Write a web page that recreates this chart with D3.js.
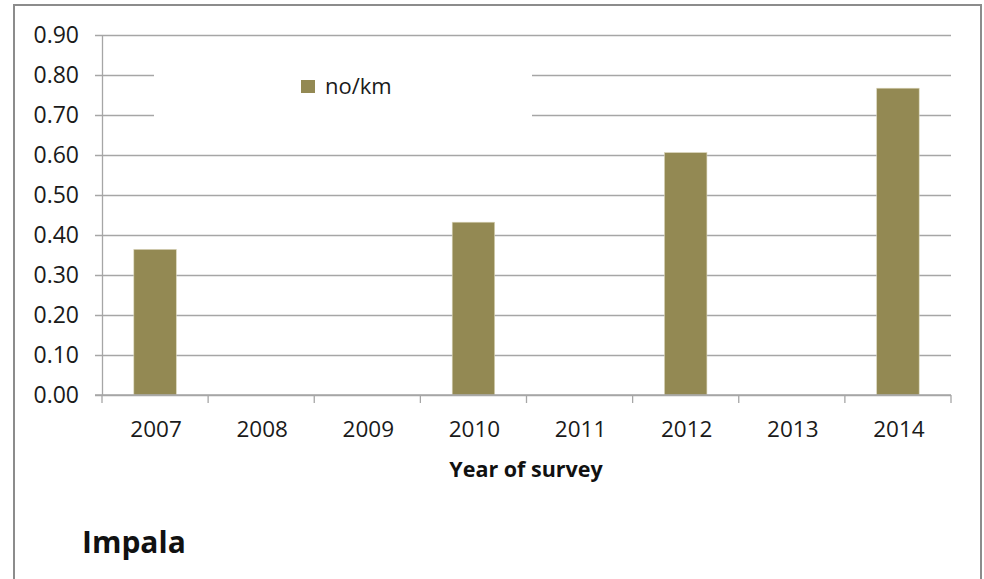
<!DOCTYPE html>
<html>
<head>
<meta charset="utf-8">
<script src="https://cdn.jsdelivr.net/npm/d3@7/dist/d3.min.js"></script>
<style>
  html, body { margin: 0; padding: 0; background: #fff; }
  svg { display: block; font-family: "Open Sans", sans-serif; }
</style>
</head>
<body>
<svg id="chart" width="984" height="579"></svg>
<script>
const years = ["2007", "2008", "2009", "2010", "2011", "2012", "2013", "2014"];
const values = [0.364, 0, 0, 0.432, 0, 0.606, 0, 0.767];
const yTicks = [0, 0.1, 0.2, 0.3, 0.4, 0.5, 0.6, 0.7, 0.8, 0.9];
const seriesName = "no/km";
const xTitle = "Year of survey";
const chartLabel = "Impala";

(function () {
const svg = d3.select("#chart");
const pL = 102, pR = 951, pT = 35, pB = 395;
const gridColor = "#a6a6a6";
const barColor = "#938953";

// outer border
svg.append("rect").attr("x", 14).attr("y", 5).attr("width", 967).attr("height", 600)
  .attr("fill", "#fff").attr("stroke", "#8c8c8c").attr("stroke-width", 2);

const x = d3.scaleBand().domain(years).range([pL, pR]).paddingInner(0.6).paddingOuter(0.3);
const xb = d3.scaleBand().domain(years).range([pL, pR]);
const y = d3.scaleLinear().domain([0, 0.9]).range([pB, pT]);

// gridlines with y tick stubs
const yAxis = d3.axisLeft(y).tickValues(yTicks).tickFormat(d3.format(".2f"))
  .tickSize(-(pR - pL)).tickSizeOuter(0).tickPadding(23);
const gy = svg.append("g").attr("transform", `translate(${pL},0)`).call(yAxis);
gy.select(".domain").attr("stroke", gridColor).attr("stroke-width", 1.3);
gy.selectAll(".tick line").attr("stroke", gridColor).attr("stroke-width", 1.3)
  .attr("x1", -7);
gy.selectAll(".tick text").attr("font-size", 23).attr("fill", "#1a1a1a")
  .attr("font-family", "Open Sans, sans-serif");

// legend box (covers gridlines)
const lg = svg.append("g");
lg.append("rect").attr("x", 154).attr("y", 55).attr("width", 378).attr("height", 72).attr("fill", "#fff");
lg.append("rect").attr("x", 301).attr("y", 80).attr("width", 14).attr("height", 13).attr("fill", barColor);
lg.append("text").attr("x", 325).attr("y", 94).attr("font-size", 22).attr("fill", "#1a1a1a").text(seriesName);

// bars
svg.append("g").selectAll("rect").data(years.map((d, i) => ({year: d, v: values[i]})).filter(d => d.v > 0))
  .join("rect")
  .attr("x", d => x(d.year))
  .attr("width", x.bandwidth())
  .attr("y", d => y(d.v))
  .attr("height", d => y(0) - y(d.v))
  .attr("fill", barColor)
  .attr("stroke", "#d9d4b8").attr("stroke-width", 0.6);

// x axis
const boundaries = years.map(d => xb(d)).concat([pR]);
const ga = svg.append("g");
ga.append("line").attr("x1", pL - 7).attr("x2", pR).attr("y1", y(0)).attr("y2", y(0))
  .attr("stroke", gridColor).attr("stroke-width", 1.3);
ga.selectAll("line.tk").data(boundaries).join("line").attr("class", "tk")
  .attr("x1", d => d).attr("x2", d => d).attr("y1", y(0)).attr("y2", y(0) + 8)
  .attr("stroke", gridColor).attr("stroke-width", 1.3);
ga.selectAll("text").data(years).join("text")
  .attr("x", d => xb(d) + xb.bandwidth() / 2 + 1)
  .attr("y", 437)
  .attr("text-anchor", "middle").attr("font-size", 22.5).attr("fill", "#1a1a1a")
  .text(d => d);

svg.append("text").attr("x", 526).attr("y", 477).attr("text-anchor", "middle")
  .attr("font-size", 21.5).attr("font-weight", "bold").attr("fill", "#111").text(xTitle);

svg.append("text").attr("x", 82).attr("y", 553)
  .attr("font-size", 30).attr("font-weight", "bold").attr("fill", "#111").text(chartLabel);
})();
</script>
</body>
</html>
